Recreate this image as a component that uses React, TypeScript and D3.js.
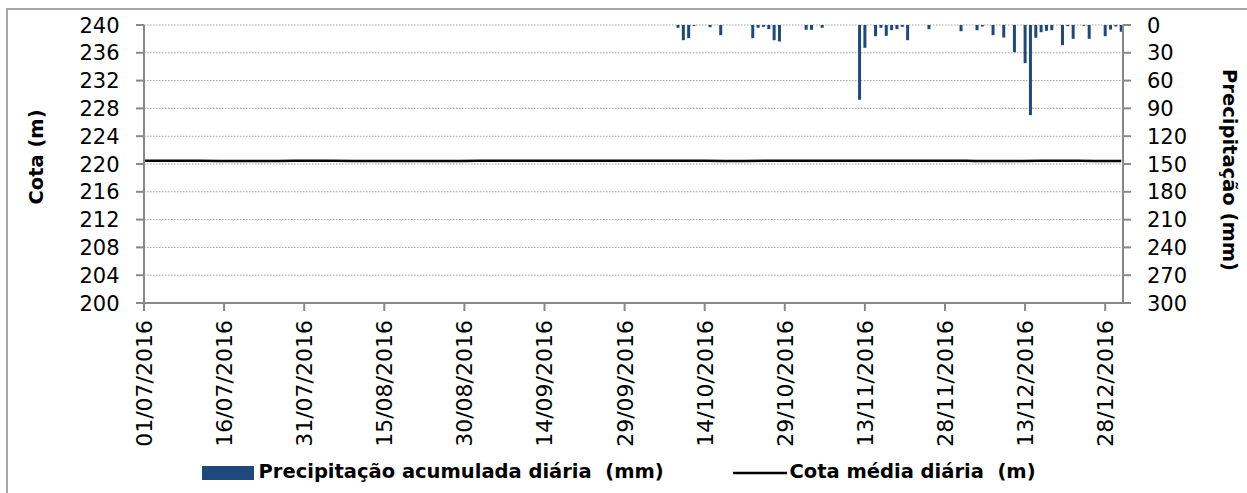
import React from "react";
import * as d3 from "d3";

// ---------- data ----------
const precipDates = [
  "2016-10-09", "2016-10-10", "2016-10-11", "2016-10-12", "2016-10-15", "2016-10-17",
  "2016-10-23", "2016-10-24", "2016-10-25", "2016-10-26", "2016-10-27", "2016-10-28",
  "2016-11-02", "2016-11-03", "2016-11-05", "2016-11-12", "2016-11-13", "2016-11-15",
  "2016-11-16", "2016-11-17", "2016-11-18", "2016-11-19", "2016-11-20", "2016-11-21",
  "2016-11-25", "2016-12-01", "2016-12-04", "2016-12-05", "2016-12-07", "2016-12-09",
  "2016-12-11", "2016-12-13", "2016-12-14", "2016-12-15", "2016-12-16", "2016-12-17",
  "2016-12-18", "2016-12-20", "2016-12-21", "2016-12-22", "2016-12-24", "2016-12-25",
  "2016-12-28", "2016-12-29", "2016-12-30", "2016-12-31",
];
const precipValues = [
  3, 16.4, 14.2, 1, 2.4, 11,
  14.2, 3, 2, 4.5, 16.4, 17.8,
  5.2, 5.2, 3, 80.7, 24.6, 12.1,
  3, 11.7, 5.6, 4.5, 2, 16.4,
  4.5, 6.7, 5.6, 1.6, 11, 13.5,
  29.4, 41.2, 97.3, 13.8, 7.8, 6.3,
  5.6, 21.8, 1.3, 14.9, 0.9, 14.9,
  12.1, 4.9, 1.6, 7.3,
];

const cotaDates = [
  "2016-07-01", "2016-07-08", "2016-07-15", "2016-07-22", "2016-07-29", "2016-08-05",
  "2016-08-12", "2016-08-19", "2016-08-26", "2016-09-02", "2016-09-09", "2016-09-16",
  "2016-09-23", "2016-09-30", "2016-10-07", "2016-10-14", "2016-10-21", "2016-10-28",
  "2016-11-04", "2016-11-11", "2016-11-18", "2016-11-25", "2016-12-02", "2016-12-09",
  "2016-12-16", "2016-12-23", "2016-12-30", "2016-12-31",
];
const cotaValues = [
  220.47, 220.46, 220.44, 220.43, 220.45, 220.46,
  220.44, 220.42, 220.44, 220.45, 220.46, 220.45,
  220.47, 220.48, 220.46, 220.45, 220.44, 220.46,
  220.47, 220.45, 220.48, 220.46, 220.45, 220.44,
  220.46, 220.45, 220.44, 220.45,
];

const leftTicks = [200, 204, 208, 212, 216, 220, 224, 228, 232, 236, 240];
const rightTicks = [0, 30, 60, 90, 120, 150, 180, 210, 240, 270, 300];

const leftTitle = "Cota (m)";
const rightTitle = "Precipitação (mm)";
const legendBars = "Precipitação acumulada diária  (mm)";
const legendLine = "Cota média diária  (m)";

// ---------- layout ----------
const W = 1247;
const H = 493;
const plotL = 144;
const plotR = 1123;
const plotT = 25;
const plotB = 303;

const parse = d3.utcParse("%Y-%m-%d");
const fmt = d3.utcFormat("%d/%m/%Y");

const start = parse("2016-07-01") as Date;
const endDomain = new Date(Date.UTC(2016, 11, 31, 8));

const x = d3.scaleUtc().domain([start, endDomain]).range([plotL, plotR]);
const yL = d3.scaleLinear().domain([200, 240]).range([plotB, plotT]);
const yR = d3.scaleLinear().domain([0, 300]).range([plotT, plotB]);

const xTicks = d3.utcDay.range(start, parse("2016-12-31") as Date, 15);

const axisColor = "#888888";
const gridColor = "#a0a0a0";
const barColor = "#1F497D";
const font = "'DejaVu Sans', sans-serif";

export default function App() {
  const cota = cotaDates.map((d, i) => ({ date: parse(d) as Date, v: cotaValues[i] }));
  const precip = precipDates.map((d, i) => ({ date: parse(d) as Date, v: precipValues[i] }));
  const line = d3
    .line<{ date: Date; v: number }>()
    .x((d) => x(d.date))
    .y((d) => yL(d.v))
    .curve(d3.curveMonotoneX);
  const barW = 3;

  return (
    <svg
      width={W}
      height={H}
      style={{ position: "absolute", left: 0, top: 0, background: "#fff" }}
      fontFamily={font}
    >
      <rect x={0} y={0} width={W} height={H} fill="#fff" />
      {/* chart frame */}
      <rect x={7} y={9} width={W + 20} height={H + 20} fill="none" stroke="#a6a6a6" strokeWidth={2} />

      {/* gridlines */}
      {leftTicks
        .filter((t) => t !== 200)
        .map((t) => (
          <line
            key={"g" + t}
            x1={plotL}
            x2={plotR}
            y1={yL(t)}
            y2={yL(t)}
            stroke={gridColor}
            strokeWidth={1}
            strokeDasharray="1.5,1.5"
          />
        ))}

      {/* precipitation bars (hanging from top) */}
      {precip.map((d, i) => (
        <rect
          key={"b" + i}
          x={x(d.date) - barW / 2}
          y={yR(0)}
          width={barW}
          height={yR(d.v) - yR(0)}
          fill={barColor}
        />
      ))}

      {/* cota line */}
      <path d={line(cota) || ""} fill="none" stroke="#000" strokeWidth={2.5} />

      {/* axes */}
      <line x1={plotL} x2={plotL} y1={plotT} y2={plotB} stroke={axisColor} strokeWidth={2} />
      <line x1={plotR} x2={plotR} y1={plotT} y2={plotB} stroke={axisColor} strokeWidth={2} />
      <line x1={plotL} x2={plotR} y1={plotB} y2={plotB} stroke={axisColor} strokeWidth={2} />

      {leftTicks.map((t) => (
        <g key={"l" + t}>
          <line x1={plotL - 8} x2={plotL} y1={yL(t)} y2={yL(t)} stroke={axisColor} strokeWidth={2} />
          <text x={119.5} y={yL(t)} dy="0.36em" textAnchor="end" fontSize={21} fill="#000">
            {t}
          </text>
        </g>
      ))}

      {rightTicks.map((t) => (
        <g key={"r" + t}>
          <line x1={plotR} x2={plotR + 8} y1={yR(t)} y2={yR(t)} stroke={axisColor} strokeWidth={2} />
          <text x={1147} y={yR(t)} dy="0.36em" textAnchor="start" fontSize={21} fill="#000">
            {t}
          </text>
        </g>
      ))}

      {xTicks.map((d, i) => (
        <g key={"x" + i}>
          <line x1={x(d)} x2={x(d)} y1={plotB} y2={plotB + 8} stroke={axisColor} strokeWidth={2} />
          <text
            transform={`translate(${x(d)},320) rotate(-90)`}
            dy="0.36em"
            textAnchor="end"
            fontSize={22}
            fill="#000"
          >
            {fmt(d)}
          </text>
        </g>
      ))}

      {/* axis titles */}
      <text
        transform={`translate(43,157) rotate(-90)`}
        textAnchor="middle"
        fontSize={19.5}
        fontWeight="bold"
        fill="#000"
      >
        {leftTitle}
      </text>
      <text
        transform={`translate(1223,170) rotate(90)`}
        textAnchor="middle"
        fontSize={19.5}
        fontWeight="bold"
        fill="#000"
      >
        {rightTitle}
      </text>

      {/* legend */}
      <rect x={202} y={466} width={52} height={14} fill={barColor} />
      <text x={258.5} y={478} fontSize={19.5} fontWeight="bold" fill="#000" style={{ whiteSpace: "pre" }}>
        {legendBars}
      </text>
      <line x1={733} x2={787} y1={473} y2={473} stroke="#000" strokeWidth={2.5} />
      <text x={789.5} y={478} fontSize={19.5} fontWeight="bold" fill="#000" style={{ whiteSpace: "pre" }}>
        {legendLine}
      </text>
    </svg>
  );
}
